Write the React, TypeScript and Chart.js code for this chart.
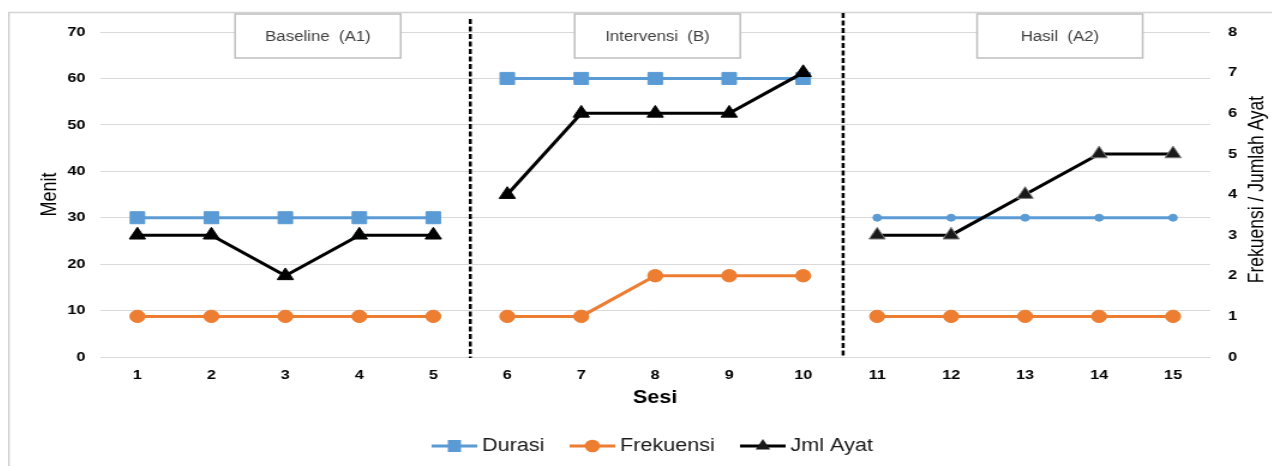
import { useEffect, useRef } from 'react';
import { Chart, registerables } from 'chart.js';

Chart.register(...registerables);

// ---------- data ----------
const sessions = ['1', '2', '3', '4', '5', '6', '7', '8', '9', '10', '11', '12', '13', '14', '15'];
const durasi = [30, 30, 30, 30, 30, 60, 60, 60, 60, 60, 30, 30, 30, 30, 30];
const frekuensi = [1, 1, 1, 1, 1, 1, 1, 2, 2, 2, 1, 1, 1, 1, 1];
const jmlAyat = [3, 3, 2, 3, 3, 4, 6, 6, 6, 7, 3, 3, 4, 5, 5];
const phaseLabels = ['Baseline  (A1)', 'Intervensi  (B)', 'Hasil  (A2)'];
const phaseLastIndex = [4, 9];
const seriesNames = ['Durasi', 'Frekuensi', 'Jml Ayat'];
const leftAxis = { min: 0, max: 70, step: 10, title: 'Menit' };
const rightAxis = { min: 0, max: 8, step: 1, title: 'Frekuensi / Jumlah Ayat' };
const xTitle = 'Sesi';

// ---------- styling ----------
const FONT = "'Liberation Sans', Arial, Helvetica, sans-serif";
const BLUE = '#5b9bd5';
const ORANGE = '#ed7d31';
const BLACK = '#000000';
const GRID = '#d9d9d9';
const TEXT = '#1a1a1a';
const TICK_SIZE = 13.5;
const STRETCH = 1.2;
const W = 1060;
const H = 458;

const phaseOf = (i: number) => (i <= phaseLastIndex[0] ? 0 : i <= phaseLastIndex[1] ? 1 : 2);
const gapSegment = (color: string) => ({
  borderColor: (ctx: any) => (phaseLastIndex.includes(ctx.p0DataIndex) ? 'rgba(0,0,0,0)' : color),
});

function makeIcon(kind: number): HTMLCanvasElement {
  const c = document.createElement('canvas');
  c.width = 38;
  c.height = 16;
  const g = c.getContext('2d')!;
  const color = kind === 0 ? BLUE : kind === 1 ? ORANGE : BLACK;
  g.strokeStyle = color;
  g.lineWidth = 3;
  g.beginPath();
  g.moveTo(0, 8);
  g.lineTo(38, 8);
  g.stroke();
  g.fillStyle = kind === 2 ? '#1a1a1a' : color;
  g.beginPath();
  if (kind === 0) {
    g.rect(19 - 5.5, 8 - 6, 11, 12);
  } else if (kind === 1) {
    g.arc(19, 8, 6.3, 0, Math.PI * 2);
  } else {
    const r = 7;
    g.moveTo(19, 8 - r);
    g.lineTo(19 + r * Math.sin((2 * Math.PI) / 3), 8 + r / 2);
    g.lineTo(19 - r * Math.sin((2 * Math.PI) / 3), 8 + r / 2);
    g.closePath();
  }
  g.fill();
  return c;
}

const phasePlugin = {
  id: 'phasePlugin',
  beforeDraw(chart: any) {
    const { ctx, width, height } = chart;
    ctx.save();
    ctx.fillStyle = '#ffffff';
    ctx.fillRect(0, 0, width, height);
    ctx.strokeStyle = '#d4d4d4';
    ctx.lineWidth = 1.5;
    ctx.beginPath();
    ctx.moveTo(0.75, height + 5);
    ctx.lineTo(0.75, 4.5);
    ctx.lineTo(width + 5, 4.5);
    ctx.stroke();
    ctx.restore();
  },
  afterDraw(chart: any) {
    const { ctx, chartArea } = chart;
    const x = chart.scales.x;
    const y1 = chart.scales.y1;
    ctx.save();
    // phase dividers
    const dividerOffsets = [0.5, 0.54];
    const dividerTops = [11, 5];
    ctx.strokeStyle = BLACK;
    ctx.lineWidth = 2.5;
    ctx.setLineDash([5, 2.5]);
    phaseLastIndex.forEach((idx, k) => {
      const px = x.getPixelForValue(idx + dividerOffsets[k]);
      ctx.beginPath();
      ctx.moveTo(px, dividerTops[k]);
      ctx.lineTo(px, chartArea.bottom + 1);
      ctx.stroke();
    });
    ctx.setLineDash([]);
    // phase label boxes
    const labelCenters = [2.44, 7.03, 12.47];
    const bw = 138;
    const bh = 44;
    const by = 6;
    ctx.font = `14px ${FONT}`;
    ctx.textAlign = 'center';
    ctx.textBaseline = 'middle';
    phaseLabels.forEach((t, i) => {
      const cx = x.getPixelForValue(labelCenters[i]);
      ctx.fillStyle = '#ffffff';
      ctx.fillRect(cx - bw / 2, by, bw, bh);
      ctx.strokeStyle = '#bfbfbf';
      ctx.lineWidth = 1.5;
      ctx.strokeRect(cx - bw / 2, by, bw, bh);
      ctx.fillStyle = '#404040';
      ctx.fillText(t, cx, by + bh / 2 + 1);
    });
    // right axis title, reading bottom-to-top
    ctx.translate(y1.right - 14.5, (chartArea.top + chartArea.bottom) / 2 - 5);
    ctx.rotate(-Math.PI / 2);
    ctx.font = `17.5px ${FONT}`;
    ctx.fillStyle = BLACK;
    ctx.textAlign = 'center';
    ctx.textBaseline = 'alphabetic';
    ctx.fillText(rightAxis.title, 0, 0);
    ctx.restore();
  },
};

export default function App() {
  const ref = useRef<HTMLCanvasElement>(null);

  useEffect(() => {
    if (!ref.current) return;
    Chart.defaults.font.family = FONT;
    const icons = [makeIcon(0), makeIcon(1), makeIcon(2)];

    const chart = new Chart(ref.current, {
      type: 'line',
      data: {
        labels: sessions,
        datasets: [
          {
            label: seriesNames[0],
            data: durasi,
            yAxisID: 'y',
            borderColor: BLUE,
            backgroundColor: BLUE,
            borderWidth: 3,
            pointStyle: sessions.map((_, i) => (phaseOf(i) === 2 ? 'circle' : 'rect')) as any,
            pointRadius: sessions.map((_, i) => (phaseOf(i) === 2 ? 3.5 : 8.5)),
            pointBorderWidth: 1,
            pointBackgroundColor: BLUE,
            pointBorderColor: BLUE,
            segment: gapSegment(BLUE),
            order: 2,
          },
          {
            label: seriesNames[1],
            data: frekuensi,
            yAxisID: 'y1',
            borderColor: ORANGE,
            backgroundColor: ORANGE,
            borderWidth: 3,
            pointStyle: 'circle',
            pointRadius: 6.2,
            pointBorderWidth: 1,
            pointBackgroundColor: ORANGE,
            pointBorderColor: ORANGE,
            segment: gapSegment(ORANGE),
            order: 1,
          },
          {
            label: seriesNames[2],
            data: jmlAyat,
            yAxisID: 'y1',
            borderColor: BLACK,
            backgroundColor: BLACK,
            borderWidth: 3,
            pointStyle: 'triangle',
            pointRadius: 7.8,
            pointBorderWidth: 1,
            pointBackgroundColor: sessions.map((_, i) => (phaseOf(i) === 2 ? '#1a1a1a' : BLACK)),
            pointBorderColor: sessions.map((_, i) => (phaseOf(i) === 2 ? '#7f7f7f' : BLACK)),
            segment: gapSegment(BLACK),
            order: 0,
          },
        ],
      },
      options: {
        responsive: false,
        animation: false,
        devicePixelRatio: 1,
        layout: { padding: { top: 24, left: 0, right: 0, bottom: 1 } },
        plugins: {
          tooltip: { enabled: false },
          legend: {
            position: 'bottom',
            fullSize: false,
            labels: {
              usePointStyle: true,
              pointStyleWidth: 28,
              padding: 26,
              color: TEXT,
              font: { size: 18, family: FONT },
              generateLabels: () =>
                seriesNames.map((name, i) => ({
                  text: name,
                  pointStyle: icons[i] as any,
                  fillStyle: 'transparent',
                  strokeStyle: 'transparent',
                  lineWidth: 0,
                  hidden: false,
                  datasetIndex: i,
                  fontColor: TEXT,
                })),
            },
          },
        },
        scales: {
          x: {
            type: 'category',
            offset: true,
            grid: { display: false, drawTicks: false, tickLength: 0 },
            border: { display: true, color: GRID, width: 1 },
            ticks: {
              autoSkip: false,
              maxRotation: 0,
              padding: 10,
              color: BLACK,
              font: { size: TICK_SIZE, weight: 'bold', family: FONT },
            },
            title: {
              display: true,
              text: xTitle,
              color: BLACK,
              font: { size: 18, weight: 'bold', family: FONT },
              padding: { top: 0, bottom: 2 },
            },
            afterFit: (s: any) => {
              s.height = 54;
            },
          },
          y: {
            position: 'left',
            min: leftAxis.min,
            max: leftAxis.max,
            grid: { color: GRID, lineWidth: 1, drawTicks: false, tickLength: 0 },
            border: { display: false },
            ticks: {
              stepSize: leftAxis.step,
              padding: 12.5,
              color: BLACK,
              font: { size: TICK_SIZE, weight: 'bold', family: FONT },
            },
            title: {
              display: true,
              text: leftAxis.title,
              color: BLACK,
              font: { size: 18, family: FONT },
              padding: { top: 24, bottom: 0 },
            },
            afterFit: (s: any) => {
              s.width = 77;
            },
          },
          y1: {
            position: 'right',
            min: rightAxis.min,
            max: rightAxis.max,
            grid: { display: false, drawTicks: false, tickLength: 0 },
            border: { display: false },
            ticks: {
              stepSize: rightAxis.step,
              padding: 15,
              color: BLACK,
              font: { size: TICK_SIZE, weight: 'bold', family: FONT },
            },
            title: { display: false, text: rightAxis.title },
            afterFit: (s: any) => {
              s.width = 58.3;
            },
          },
        },
      } as any,
      plugins: [phasePlugin],
    });

    return () => chart.destroy();
  }, []);

  return (
    <div style={{ width: W * STRETCH, height: H, overflow: 'hidden' }}>
      <div style={{ width: W, height: H, transform: `scaleX(${STRETCH})`, transformOrigin: '0 0' }}>
        <canvas ref={ref} width={W} height={H} style={{ display: 'block', width: W, height: H }} />
      </div>
    </div>
  );
}
